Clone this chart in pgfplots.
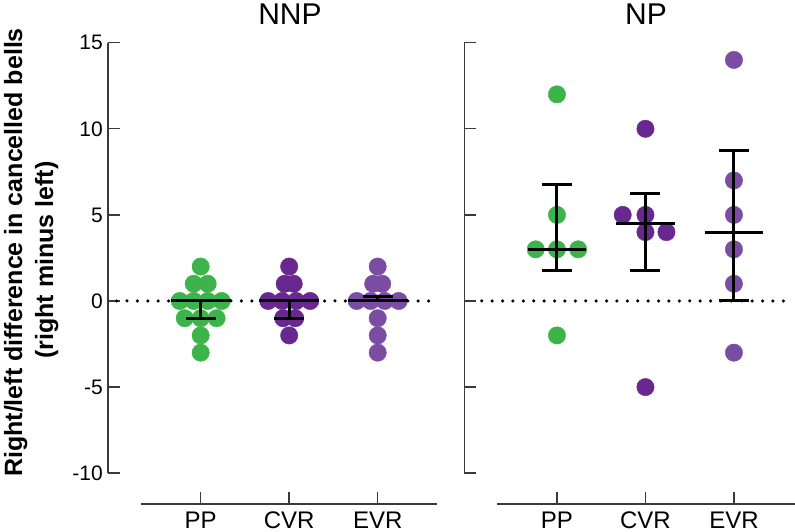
\documentclass[border=0pt]{standalone}
\usepackage{fontspec}
\setmainfont{Liberation Sans}
\usepackage{pgfplots}
\pgfplotsset{compat=1.18}
\definecolor{cgreen}{HTML}{3DB449}
\definecolor{cpurple}{HTML}{68288F}
\definecolor{clpurple}{HTML}{7A4DA2}
\definecolor{axgray}{HTML}{3A3A3A}
\pgfplotsset{
  panel/.style={
    scale only axis, height=461.3bp,
    anchor=south west,
    ymin=-11.79, ymax=15,
    axis x line=bottom, axis y line=left,
    axis line style={-, line width=1.6bp, color=axgray},
    x axis line style={shorten <=33bp},
    y axis line style={shorten <=31bp},
    tick align=inside, major tick length=12bp,
    tick style={line width=1.4bp, color=axgray},
    xtick={0,1,2}, xticklabels={PP,CVR,EVR},
    ytick={-10,-5,0,5,10,15},
    xticklabel style={anchor=base, yshift=-24bp, inner sep=0pt, font=\fontsize{24bp}{24bp}\selectfont},
    yticklabel style={anchor=east, inner sep=0pt, xshift=-5bp, font=\fontsize{21bp}{21bp}\selectfont},
    clip=false, clip marker paths=true, unbounded coords=jump,
  },
  dot/.style={only marks, color=#1, mark=*, mark size=8.7bp, mark options={draw=#1, fill=#1, line width=0.4bp}},
  zeroline/.style={black, line width=3.5bp, line cap=round, dash pattern=on 0bp off 10.4bp},
  eb/.style={black, line width=3bp},
}
\begin{document}
\begin{tikzpicture}
\useasboundingbox (0,0) rectangle (795bp,532bp);
% ---------------- NNP panel ----------------
\begin{axis}[panel, at={(108bp,28bp)}, width=329bp,
  xmin=-1.047, xmax=2.67,
  yticklabels={-10,-5,0,5,10,15}]
\addplot[zeroline] coordinates {(-0.95,0) (2.625,0)};
% PP
\addplot[dot=cgreen] coordinates {
 (0,2) (-0.079,1) (0.079,1)
 (-0.237,0) (-0.079,0) (0.079,0) (0.237,0)
 (-0.18,-1) (0,-1) (0.18,-1)
 (0,-2) (0,-3)};
% CVR
\addplot[dot=cpurple] coordinates {
 (1,2) (0.949,1) (1.051,1)
 (0.763,0) (0.921,0) (1.079,0) (1.237,0)
 (0.932,-1) (1.068,-1)
 (1,-2)};
% EVR
\addplot[dot=clpurple] coordinates {
 (2,2) (1.949,1) (2.051,1)
 (1.763,0) (1.921,0) (2.079,0) (2.237,0)
 (2,-1) (2,-2) (2,-3)};
% median and IQR
\addplot[eb] coordinates {(-0.34,0) (0.34,0) (nan,nan) (0,-1) (0,0) (nan,nan) (-0.17,-1) (0.17,-1)};
\addplot[eb] coordinates {(0.66,0) (1.34,0) (nan,nan) (1,-1) (1,0) (nan,nan) (0.83,-1) (1.17,-1)};
\addplot[eb] coordinates {(1.66,0) (2.34,0) (nan,nan) (2,0) (2,0.25) (nan,nan) (1.83,0.25) (2.17,0.25)};
\end{axis}
% ---------------- NP panel ----------------
\begin{axis}[panel, at={(464.3bp,28bp)}, width=330.7bp,
  xmin=-1.047, xmax=2.69,
  yticklabels={}]
\addplot[zeroline] coordinates {(-0.85,0) (2.67,0)};
\addplot[dot=cgreen] coordinates {(0,12) (0,5) (-0.24,3) (0,3) (0.24,3) (0,-2)};
\addplot[dot=cpurple] coordinates {(1,10) (0.743,5) (1,5) (1,4) (1.237,4) (1,-5)};
\addplot[dot=clpurple] coordinates {(2,14) (2,7) (2,5) (2,3) (2,1) (2,-3)};
\addplot[eb] coordinates {(-0.33,3) (0.33,3) (nan,nan) (0,1.75) (0,6.75) (nan,nan) (-0.17,1.75) (0.17,1.75) (nan,nan) (-0.17,6.75) (0.17,6.75)};
\addplot[eb] coordinates {(0.67,4.5) (1.33,4.5) (nan,nan) (1,1.75) (1,6.25) (nan,nan) (0.83,1.75) (1.17,1.75) (nan,nan) (0.83,6.25) (1.17,6.25)};
\addplot[eb] coordinates {(1.67,4) (2.33,4) (nan,nan) (2,0) (2,8.75) (nan,nan) (1.83,0) (2.17,0) (nan,nan) (1.83,8.75) (2.17,8.75)};
\end{axis}
% titles and y label
\node[anchor=base, font=\fontsize{30bp}{30bp}\selectfont] at (290bp,507bp) {NNP};
\node[anchor=base, font=\fontsize{30bp}{30bp}\selectfont] at (646bp,507bp) {NP};
\node[rotate=90, anchor=base, font=\bfseries\fontsize{25bp}{25bp}\selectfont] at (22bp,279.5bp) {Right/left difference in cancelled bells};
\node[rotate=90, anchor=base, font=\bfseries\fontsize{25bp}{25bp}\selectfont] at (53bp,272bp) {(right minus left)};
\end{tikzpicture}
\end{document}
